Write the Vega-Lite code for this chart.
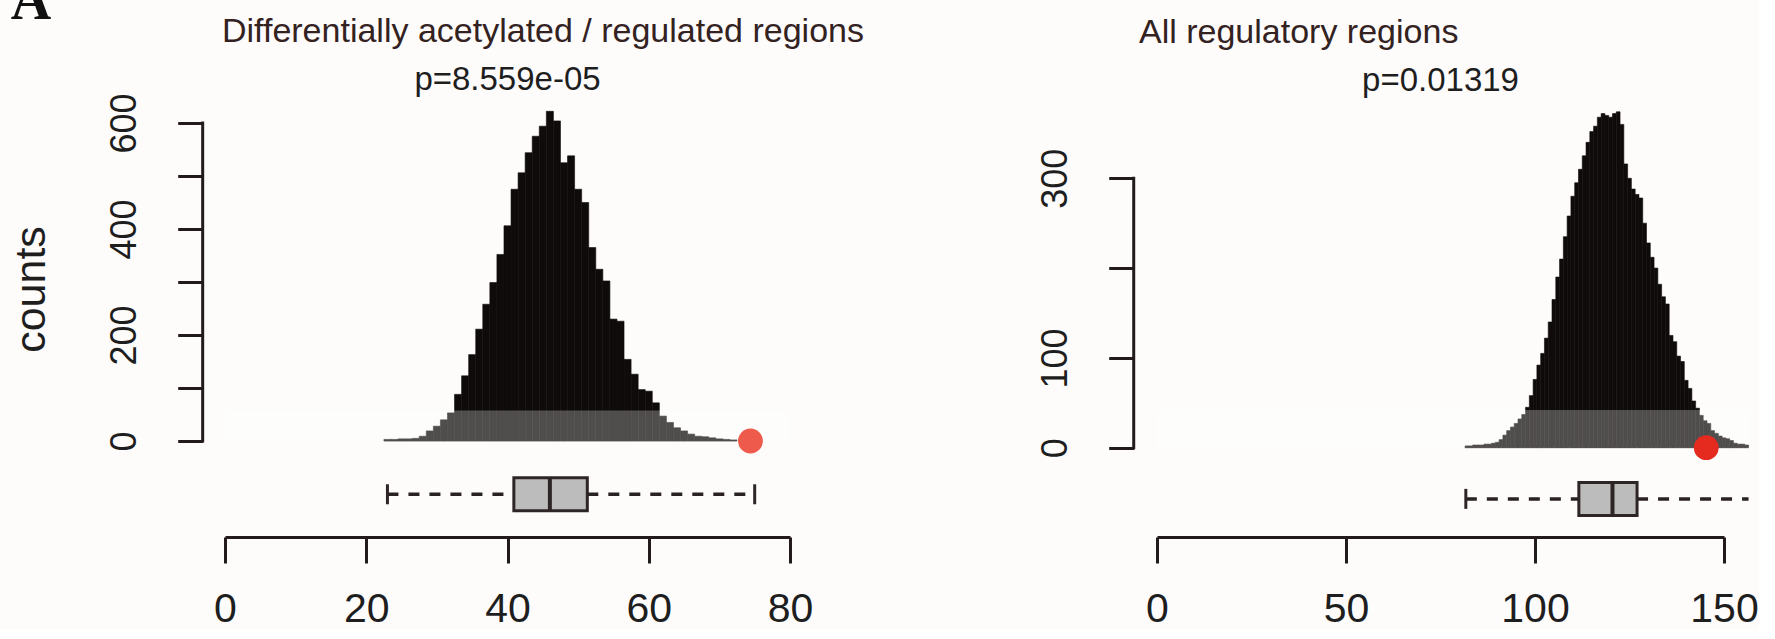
{
  "$schema": "https://vega.github.io/schema/vega-lite/v6.json",
  "background": "#fdfcfb",
  "padding": {"left": 10, "top": -27, "right": 0, "bottom": 0},
  "title": {"text": "A", "anchor": "start", "frame": "bounds", "font": "Liberation Serif", "fontWeight": "bold", "fontSize": 56, "color": "#111111", "offset": -16},
  "config": {
    "view": {"stroke": null},
    "font": "Liberation Sans",
    "axis": {"grid": false, "labelFont": "Liberation Sans", "titleFont": "Liberation Sans"}
  },
  "datasets": {
    "histL": [
      {"x0": 22.5, "x1": 23.5, "n": 3}, {"x0": 23.5, "x1": 24.5, "n": 3}, {"x0": 24.5, "x1": 25.5, "n": 4},
      {"x0": 25.5, "x1": 26.5, "n": 4}, {"x0": 26.5, "x1": 27.5, "n": 5}, {"x0": 27.5, "x1": 28.5, "n": 9},
      {"x0": 28.5, "x1": 29.5, "n": 19}, {"x0": 29.5, "x1": 30.5, "n": 28}, {"x0": 30.5, "x1": 31.5, "n": 40},
      {"x0": 31.5, "x1": 32.5, "n": 53}, {"x0": 32.5, "x1": 33.5, "n": 88}, {"x0": 33.5, "x1": 34.5, "n": 123},
      {"x0": 34.5, "x1": 35.5, "n": 163}, {"x0": 35.5, "x1": 36.5, "n": 211}, {"x0": 36.5, "x1": 37.5, "n": 258},
      {"x0": 37.5, "x1": 38.5, "n": 299}, {"x0": 38.5, "x1": 39.5, "n": 352}, {"x0": 39.5, "x1": 40.5, "n": 406},
      {"x0": 40.5, "x1": 41.5, "n": 475}, {"x0": 41.5, "x1": 42.5, "n": 506}, {"x0": 42.5, "x1": 43.5, "n": 544},
      {"x0": 43.5, "x1": 44.5, "n": 575}, {"x0": 44.5, "x1": 45.5, "n": 594}, {"x0": 45.5, "x1": 46.5, "n": 622},
      {"x0": 46.5, "x1": 47.5, "n": 604}, {"x0": 47.5, "x1": 48.5, "n": 525}, {"x0": 48.5, "x1": 49.5, "n": 538},
      {"x0": 49.5, "x1": 50.5, "n": 475}, {"x0": 50.5, "x1": 51.5, "n": 450}, {"x0": 51.5, "x1": 52.5, "n": 365},
      {"x0": 52.5, "x1": 53.5, "n": 324}, {"x0": 53.5, "x1": 54.5, "n": 302}, {"x0": 54.5, "x1": 55.5, "n": 230},
      {"x0": 55.5, "x1": 56.5, "n": 226}, {"x0": 56.5, "x1": 57.5, "n": 154}, {"x0": 57.5, "x1": 58.5, "n": 126},
      {"x0": 58.5, "x1": 59.5, "n": 97}, {"x0": 59.5, "x1": 60.5, "n": 94}, {"x0": 60.5, "x1": 61.5, "n": 72},
      {"x0": 61.5, "x1": 62.5, "n": 47}, {"x0": 62.5, "x1": 63.5, "n": 35}, {"x0": 63.5, "x1": 64.5, "n": 25},
      {"x0": 64.5, "x1": 65.5, "n": 19}, {"x0": 65.5, "x1": 66.5, "n": 13}, {"x0": 66.5, "x1": 67.5, "n": 9},
      {"x0": 67.5, "x1": 68.5, "n": 8}, {"x0": 68.5, "x1": 69.5, "n": 6}, {"x0": 69.5, "x1": 70.5, "n": 4},
      {"x0": 70.5, "x1": 71.5, "n": 3}, {"x0": 71.5, "x1": 72.5, "n": 2}
    ],
    "histR": [
      {"x0": 81.5, "x1": 82.5, "n": 2}, {"x0": 82.5, "x1": 83.5, "n": 2}, {"x0": 83.5, "x1": 84.5, "n": 3},
      {"x0": 84.5, "x1": 85.5, "n": 3}, {"x0": 85.5, "x1": 86.5, "n": 3}, {"x0": 86.5, "x1": 87.5, "n": 4},
      {"x0": 87.5, "x1": 88.5, "n": 4}, {"x0": 88.5, "x1": 89.5, "n": 5}, {"x0": 89.5, "x1": 90.5, "n": 6},
      {"x0": 90.5, "x1": 91.5, "n": 9}, {"x0": 91.5, "x1": 92.5, "n": 14}, {"x0": 92.5, "x1": 93.5, "n": 19},
      {"x0": 93.5, "x1": 94.5, "n": 23}, {"x0": 94.5, "x1": 95.5, "n": 27}, {"x0": 95.5, "x1": 96.5, "n": 32},
      {"x0": 96.5, "x1": 97.5, "n": 37}, {"x0": 97.5, "x1": 98.5, "n": 45}, {"x0": 98.5, "x1": 99.5, "n": 58},
      {"x0": 99.5, "x1": 100.5, "n": 76}, {"x0": 100.5, "x1": 101.5, "n": 92}, {"x0": 101.5, "x1": 102.5, "n": 105},
      {"x0": 102.5, "x1": 103.5, "n": 122}, {"x0": 103.5, "x1": 104.5, "n": 140}, {"x0": 104.5, "x1": 105.5, "n": 165},
      {"x0": 105.5, "x1": 106.5, "n": 190}, {"x0": 106.5, "x1": 107.5, "n": 210}, {"x0": 107.5, "x1": 108.5, "n": 235},
      {"x0": 108.5, "x1": 109.5, "n": 258}, {"x0": 109.5, "x1": 110.5, "n": 280}, {"x0": 110.5, "x1": 111.5, "n": 295},
      {"x0": 111.5, "x1": 112.5, "n": 310}, {"x0": 112.5, "x1": 113.5, "n": 325}, {"x0": 113.5, "x1": 114.5, "n": 340},
      {"x0": 114.5, "x1": 115.5, "n": 352}, {"x0": 115.5, "x1": 116.5, "n": 358}, {"x0": 116.5, "x1": 117.5, "n": 368},
      {"x0": 117.5, "x1": 118.5, "n": 372}, {"x0": 118.5, "x1": 119.5, "n": 370}, {"x0": 119.5, "x1": 120.5, "n": 368},
      {"x0": 120.5, "x1": 121.5, "n": 372}, {"x0": 121.5, "x1": 122.5, "n": 374}, {"x0": 122.5, "x1": 123.5, "n": 360},
      {"x0": 123.5, "x1": 124.5, "n": 316}, {"x0": 124.5, "x1": 125.5, "n": 300}, {"x0": 125.5, "x1": 126.5, "n": 288},
      {"x0": 126.5, "x1": 127.5, "n": 282}, {"x0": 127.5, "x1": 128.5, "n": 278}, {"x0": 128.5, "x1": 129.5, "n": 250},
      {"x0": 129.5, "x1": 130.5, "n": 228}, {"x0": 130.5, "x1": 131.5, "n": 212}, {"x0": 131.5, "x1": 132.5, "n": 200},
      {"x0": 132.5, "x1": 133.5, "n": 182}, {"x0": 133.5, "x1": 134.5, "n": 168}, {"x0": 134.5, "x1": 135.5, "n": 160},
      {"x0": 135.5, "x1": 136.5, "n": 125}, {"x0": 136.5, "x1": 137.5, "n": 118}, {"x0": 137.5, "x1": 138.5, "n": 102},
      {"x0": 138.5, "x1": 139.5, "n": 96}, {"x0": 139.5, "x1": 140.5, "n": 75}, {"x0": 140.5, "x1": 141.5, "n": 66},
      {"x0": 141.5, "x1": 142.5, "n": 52}, {"x0": 142.5, "x1": 143.5, "n": 44}, {"x0": 143.5, "x1": 144.5, "n": 36},
      {"x0": 144.5, "x1": 145.5, "n": 30}, {"x0": 145.5, "x1": 146.5, "n": 27}, {"x0": 146.5, "x1": 147.5, "n": 19},
      {"x0": 147.5, "x1": 148.5, "n": 16}, {"x0": 148.5, "x1": 149.5, "n": 13}, {"x0": 149.5, "x1": 150.5, "n": 11},
      {"x0": 150.5, "x1": 151.5, "n": 10}, {"x0": 151.5, "x1": 152.5, "n": 8}, {"x0": 152.5, "x1": 153.5, "n": 5},
      {"x0": 153.5, "x1": 154.5, "n": 4}, {"x0": 154.5, "x1": 155.5, "n": 4}, {"x0": 155.5, "x1": 156.5, "n": 3}
    ],
    "boxL": [{"lo": 23.0, "q1": 40.9, "med": 46.0, "q3": 51.3, "hi": 75.0}],
    "boxR": [{"lo": 81.7, "q1": 111.6, "med": 120.5, "q3": 127.0, "hi": 156.5}],
    "obsL": [{"obs": 74.4, "n": 0}],
    "obsR": [{"obs": 145.3, "n": 0}]
  },
  "spacing": 173,
  "hconcat": [
    {
      "title": {"text": "Differentially acetylated / regulated regions", "anchor": "start", "frame": "group", "dx": -3, "font": "Liberation Sans", "fontSize": 34, "fontWeight": "normal", "color": "#33221f", "offset": 15},
      "bounds": "flush",
      "spacing": 0,
      "vconcat": [
        {
          "width": 565,
          "height": 338,
          "title": {"text": "p=8.559e-05", "anchor": "middle", "frame": "group", "font": "Liberation Sans", "fontSize": 33, "fontWeight": "normal", "color": "#1e1e1e", "offset": -4},
          "layer": [
            {
              "data": {"name": "histL"},
              "mark": {"type": "rect", "color": "#100b0b", "stroke": "#100b0b", "strokeWidth": 0.6},
              "encoding": {
                "x": {"field": "x0", "type": "quantitative", "scale": {"domain": [0, 80], "nice": false, "zero": false}, "axis": null},
                "x2": {"field": "x1"},
                "y": {"field": "n", "type": "quantitative", "scale": {"domain": [-32.08, 605.66], "nice": false, "zero": false},
                  "axis": {"orient": "left", "offset": 22.3, "values": [0, 100, 200, 300, 400, 500, 600], "labelExpr": "datum.value % 200 === 0 ? datum.label : ''", "domain": false, "tickSize": 25, "tickWidth": 3, "tickColor": "#231b1b", "labelAngle": 270, "labelAlign": "center", "labelBaseline": "alphabetic", "labelPadding": 42, "labelFontSize": 36, "labelColor": "#1e1e1e", "labelOverlap": false, "labelFlush": false, "labelBound": false, "title": "counts", "titleFontSize": 43, "titleFontWeight": "normal", "titleColor": "#1e1e1e", "titlePadding": 53}},
                "y2": {"datum": 0}
              }
            },
            {
              "data": {"values": [{}]},
              "mark": {"type": "rect", "fill": "#ffffff", "opacity": 0.27},
              "encoding": {"x": {"datum": 0}, "x2": {"datum": 80}, "y": {"datum": 0}, "y2": {"datum": 57.5}}
            },
            {
              "data": {"values": [{}]},
              "mark": {"type": "rule", "strokeWidth": 3, "color": "#231b1b", "strokeCap": "square"},
              "encoding": {"x": {"datum": -3.16}, "y": {"datum": 0}, "y2": {"datum": 600}}
            },
            {
              "data": {"name": "obsL"},
              "mark": {"type": "circle", "size": 615, "opacity": 1, "color": "#ee5a4c"},
              "encoding": {"x": {"field": "obs", "type": "quantitative"}, "y": {"field": "n", "type": "quantitative"}}
            }
          ]
        },
        {
          "width": 565,
          "height": 79,
          "data": {"name": "boxL"},
          "encoding": {"y": {"datum": "box", "type": "nominal", "scale": {"type": "band", "paddingInner": 0, "paddingOuter": 0.697, "align": 0.43}, "axis": null}},
          "layer": [
            {
              "mark": {"type": "rule", "strokeDash": [11, 10], "strokeWidth": 3.5, "color": "#2a2222"},
              "encoding": {
                "x": {"field": "lo", "type": "quantitative", "scale": {"domain": [0, 80], "nice": false, "zero": false},
                  "axis": {"orient": "bottom", "values": [0, 20, 40, 60, 80], "domain": true, "domainWidth": 3, "domainColor": "#231b1b", "tickSize": 26, "tickWidth": 3, "tickColor": "#231b1b", "labelFontSize": 41, "labelPadding": 26, "labelColor": "#1e1e1e", "labelBaseline": "top", "labelFlush": false, "labelOverlap": false, "labelBound": false, "title": null}},
                "x2": {"field": "q1"}
              }
            },
            {
              "mark": {"type": "rule", "strokeDash": [11, 10], "strokeWidth": 3.5, "color": "#2a2222"},
              "encoding": {"x": {"field": "q3", "type": "quantitative"}, "x2": {"field": "hi"}}
            },
            {
              "mark": {"type": "bar", "fill": "#bdbcbc", "stroke": "#2e2626", "strokeWidth": 3},
              "encoding": {"x": {"field": "q1", "type": "quantitative"}, "x2": {"field": "q3"}}
            },
            {
              "mark": {"type": "tick", "orient": "vertical", "size": 33, "thickness": 4, "color": "#2e2626", "opacity": 1},
              "encoding": {"x": {"field": "med", "type": "quantitative"}}
            },
            {
              "mark": {"type": "tick", "orient": "vertical", "size": 20, "thickness": 3, "color": "#2e2626", "opacity": 1},
              "encoding": {"x": {"field": "lo", "type": "quantitative"}}
            },
            {
              "mark": {"type": "tick", "orient": "vertical", "size": 20, "thickness": 3, "color": "#2e2626", "opacity": 1},
              "encoding": {"x": {"field": "hi", "type": "quantitative"}}
            }
          ]
        }
      ]
    },
    {
      "title": {"text": "All regulatory regions", "anchor": "start", "frame": "group", "dx": -18, "font": "Liberation Sans", "fontSize": 34, "fontWeight": "normal", "color": "#33221f", "offset": 15},
      "bounds": "flush",
      "spacing": 0,
      "vconcat": [
        {
          "width": 567,
          "height": 338,
          "title": {"text": "p=0.01319", "anchor": "middle", "frame": "group", "font": "Liberation Sans", "fontSize": 33, "fontWeight": "normal", "color": "#1e1e1e", "offset": 14},
          "layer": [
            {
              "data": {"name": "histR"},
              "mark": {"type": "rect", "color": "#100b0b", "stroke": "#100b0b", "strokeWidth": 0.6},
              "encoding": {
                "x": {"field": "x0", "type": "quantitative", "scale": {"domain": [0, 150], "nice": false, "zero": false}, "axis": null},
                "x2": {"field": "x1"},
                "y": {"field": "n", "type": "quantitative", "scale": {"domain": [-11.47, 364.9], "nice": false, "zero": false},
                  "axis": {"orient": "left", "offset": 23.3, "values": [0, 100, 200, 300], "labelExpr": "datum.value === 200 ? '' : datum.label", "domain": false, "tickSize": 25, "tickWidth": 3, "tickColor": "#231b1b", "labelAngle": 270, "labelAlign": "center", "labelBaseline": "alphabetic", "labelPadding": 42, "labelFontSize": 36, "labelColor": "#1e1e1e", "labelOverlap": false, "labelFlush": false, "labelBound": false, "title": null}},
                "y2": {"datum": 0}
              }
            },
            {
              "data": {"values": [{}]},
              "mark": {"type": "rect", "fill": "#ffffff", "opacity": 0.27},
              "encoding": {"x": {"datum": 0}, "x2": {"datum": 157}, "y": {"datum": 0}, "y2": {"datum": 42}}
            },
            {
              "data": {"values": [{}]},
              "mark": {"type": "rule", "strokeWidth": 3, "color": "#231b1b", "strokeCap": "square"},
              "encoding": {"x": {"datum": -6.16}, "y": {"datum": 0}, "y2": {"datum": 300}}
            },
            {
              "data": {"name": "obsR"},
              "mark": {"type": "circle", "size": 615, "opacity": 1, "color": "#e52a20"},
              "encoding": {"x": {"field": "obs", "type": "quantitative"}, "y": {"field": "n", "type": "quantitative"}}
            }
          ]
        },
        {
          "width": 567,
          "height": 79,
          "data": {"name": "boxR"},
          "encoding": {"y": {"datum": "box", "type": "nominal", "scale": {"type": "band", "paddingInner": 0, "paddingOuter": 0.697, "align": 0.53}, "axis": null}},
          "layer": [
            {
              "mark": {"type": "rule", "strokeDash": [11, 10], "strokeWidth": 3.5, "color": "#2a2222"},
              "encoding": {
                "x": {"field": "lo", "type": "quantitative", "scale": {"domain": [0, 150], "nice": false, "zero": false},
                  "axis": {"orient": "bottom", "values": [0, 50, 100, 150], "domain": true, "domainWidth": 3, "domainColor": "#231b1b", "tickSize": 26, "tickWidth": 3, "tickColor": "#231b1b", "labelFontSize": 41, "labelPadding": 26, "labelColor": "#1e1e1e", "labelBaseline": "top", "labelFlush": false, "labelOverlap": false, "labelBound": false, "title": null}},
                "x2": {"field": "q1"}
              }
            },
            {
              "mark": {"type": "rule", "strokeDash": [11, 10], "strokeWidth": 3.5, "color": "#2a2222"},
              "encoding": {"x": {"field": "q3", "type": "quantitative"}, "x2": {"field": "hi"}}
            },
            {
              "mark": {"type": "bar", "fill": "#bdbcbc", "stroke": "#2e2626", "strokeWidth": 3},
              "encoding": {"x": {"field": "q1", "type": "quantitative"}, "x2": {"field": "q3"}}
            },
            {
              "mark": {"type": "tick", "orient": "vertical", "size": 33, "thickness": 4, "color": "#2e2626", "opacity": 1},
              "encoding": {"x": {"field": "med", "type": "quantitative"}}
            },
            {
              "mark": {"type": "tick", "orient": "vertical", "size": 20, "thickness": 3, "color": "#2e2626", "opacity": 1},
              "encoding": {"x": {"field": "lo", "type": "quantitative"}}
            }
          ]
        }
      ]
    }
  ]
}
